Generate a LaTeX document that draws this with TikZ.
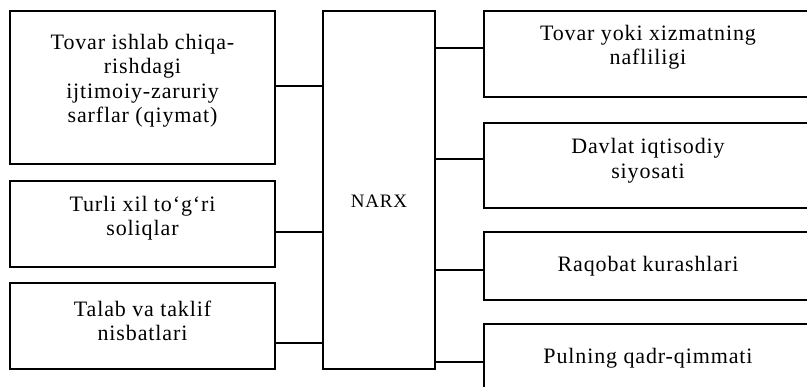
\documentclass[tikz,border=0pt]{standalone}
\usepackage{fontspec}
\setmainfont{Liberation Serif}
\newfontfamily\boxfont{Liberation Serif}[LetterSpace=4]
\begin{document}
\begin{tikzpicture}[x=1pt,y=-1pt,
  box/.style={draw,line width=2pt,rectangle,inner sep=0pt,anchor=north west},
  txt/.style={align=center,inner sep=0pt,font=\boxfont\fontsize{22}{24.5}\selectfont},
  link/.style={line width=2pt}]
\clip[use as bounding box] (0,0) rectangle (807,387);
% left boxes
\node[box,minimum width=265pt,minimum height=153pt] (L1) at (9,10) {};
\node[box,minimum width=265pt,minimum height=86pt] (L2) at (9,180) {};
\node[box,minimum width=265pt,minimum height=86pt] (L3) at (9,282) {};
% centre
\node[box,minimum width=112pt,minimum height=358pt] (N) at (322,10) {};
% right boxes
\node[box,minimum width=328pt,minimum height=86pt] (R1) at (483,10) {};
\node[box,minimum width=328pt,minimum height=85pt] (R2) at (483,122) {};
\node[box,minimum width=328pt,minimum height=68pt] (R3) at (483,231) {};
\node[box,minimum width=328pt,minimum height=100pt] (R4) at (483,323) {};
% texts
\node[txt] (tL1) at ([yshift=7pt]L1.center) {Tovar ishlab chiqa-\\rishdagi\\ijtimoiy-zaruriy\\sarflar (qiymat)};
\node[txt] (tL2) at ([yshift=6pt]L2.center) {Turli xil to‘g‘ri\\soliqlar};
\node[txt] (tL3) at ([yshift=5pt]L3.center) {Talab va taklif\\nisbatlari};
\node[align=center,inner sep=0pt,font=\boxfont\fontsize{19}{22}\selectfont] (tN) at ([yshift=-11pt]N.center) {NARX};
\node[txt] (tR1) at ([yshift=7pt]R1.center) {Tovar yoki xizmatning\\nafliligi};
\node[txt] (tR2) at ([yshift=5pt]R2.center) {Davlat iqtisodiy\\siyosati};
\node[txt] (tR3) at (R3.center) {Raqobat kurashlari};
\node[txt] (tR4) at ([yshift=-35pt]R4.north) {Pulning qadr-qimmati};
% connectors left
\coordinate (c1) at ([yshift=1.5pt]L1.east);
\coordinate (c2) at ([yshift=-8pt]L2.east);
\coordinate (c3) at ([yshift=-17pt]L3.east);
\draw[link] (c1) -- (c1 -| N.west);
\draw[link] (c2) -- (c2 -| N.west);
\draw[link] (c3) -- (c3 -| N.west);
% connectors right
\coordinate (d1) at ([yshift=6pt]R1.west);
\coordinate (d2) at ([yshift=6.5pt]R2.west);
\coordinate (d3) at ([yshift=-4pt]R3.west);
\coordinate (d4) at ([yshift=-39pt]R4.north west);
\draw[link] (d1) -- (d1 -| N.east);
\draw[link] (d2) -- (d2 -| N.east);
\draw[link] (d3) -- (d3 -| N.east);
\draw[link] (d4) -- (d4 -| N.east);
\end{tikzpicture}
\end{document}
